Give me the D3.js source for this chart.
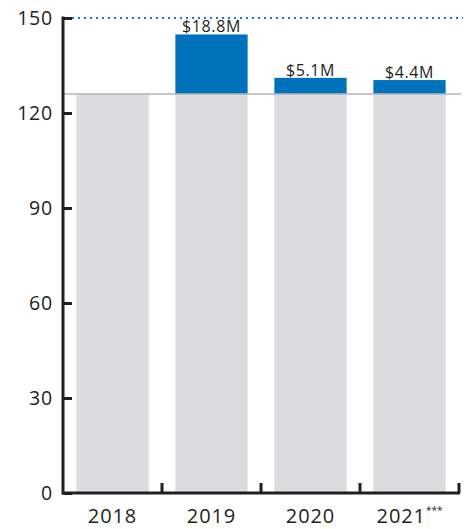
<!DOCTYPE html>
<html>
<head>
<meta charset="utf-8">
<script src="https://cdn.jsdelivr.net/npm/d3@7"></script>
<style>
  body { margin: 0; background: #fff; }
  svg text { font-family: "Open Sans", sans-serif; fill: #231f20; }
</style>
</head>
<body>
<script>
(function(){

    // chart data
    var years = ["2018", "2019", "2020", "2021"];
    var baseValues = [126, 126, 126, 126];
    var increases = [0, 18.8, 5.1, 4.4];
    var increaseLabels = ["", "$18.8M", "$5.1M", "$4.4M"];
    var yTicks = [0, 30, 60, 90, 120, 150];
    var refValue = 150;

    var width = 468,
        height = 529;

    var svg = d3.select("body")
        .append("svg")
        .attr("width", width)
        .attr("height", height);

    var x = d3.scaleBand()
        .domain(years)
        .range([63, 459])
        .paddingInner(0.27)
        .paddingOuter(0.135);

    var y = d3.scaleLinear()
        .domain([0, 150])
        .range([493, 18]);

    var rows = years.map(function(d, i){
        return { year: d, base: baseValues[i], inc: increases[i], label: increaseLabels[i] };
    });

    // gray base bars
    svg.selectAll(".base")
        .data(rows)
        .enter()
        .append("rect")
        .attr("class", "base")
        .attr("x", function(d){ return x(d.year); })
        .attr("width", x.bandwidth())
        .attr("y", function(d){ return y(d.base); })
        .attr("height", function(d){ return y(0) - y(d.base); })
        .style("fill", "#dcdcde");

    // blue increments
    svg.selectAll(".inc")
        .data(rows.filter(function(d){ return d.inc > 0; }))
        .enter()
        .append("rect")
        .attr("class", "inc")
        .attr("x", function(d){ return x(d.year); })
        .attr("width", x.bandwidth())
        .attr("y", function(d){ return y(d.base + d.inc); })
        .attr("height", function(d){ return y(d.base) - y(d.base + d.inc); })
        .style("fill", "#0072bc");

    svg.selectAll(".incLabel")
        .data(rows.filter(function(d){ return d.inc > 0; }))
        .enter()
        .append("text")
        .attr("class", "incLabel")
        .attr("x", function(d){ return x(d.year) + x.bandwidth() / 2; })
        .attr("y", function(d){ return y(d.base + d.inc) - 2; })
        .attr("text-anchor", "middle")
        .style("font-size", "16px")
        .style("letter-spacing", "0.6px")
        .text(function(d){ return d.label; });

    // gray baseline across at base level
    svg.append("line")
        .attr("x1", 63)
        .attr("x2", 461)
        .attr("y1", y(baseValues[0]))
        .attr("y2", y(baseValues[0]))
        .style("stroke", "#b5b5b8")
        .style("stroke-width", 1.5);

    // dotted reference line
    svg.append("line")
        .attr("x1", 72)
        .attr("x2", 463)
        .attr("y1", y(refValue))
        .attr("y2", y(refValue))
        .style("stroke", "#1a7ac4")
        .style("stroke-width", 2)
        .style("stroke-dasharray", "2,4");

    // y axis, ticks pointing inward
    var yAxis = d3.axisLeft(y)
        .tickValues(yTicks)
        .tickSize(-9)
        .tickPadding(10);

    var gy = svg.append("g")
        .attr("transform", "translate(63,0)")
        .call(yAxis);

    gy.select(".domain").remove();
    gy.selectAll(".tick line")
        .style("stroke", "#231f20")
        .style("stroke-width", 3);
    gy.selectAll(".tick text")
        .style("font-size", "19.5px")
        .style("letter-spacing", "0.8px")
        .style("fill", "#231f20")
        .attr("font-family", null);

    svg.append("line")
        .attr("x1", 63)
        .attr("x2", 63)
        .attr("y1", y(150) - 1.5)
        .attr("y2", y(0) + 1.5)
        .style("stroke", "#231f20")
        .style("stroke-width", 3);

    // x axis line and band boundary ticks
    svg.append("line")
        .attr("x1", 63)
        .attr("x2", 460)
        .attr("y1", y(0))
        .attr("y2", y(0))
        .style("stroke", "#231f20")
        .style("stroke-width", 3);

    var bounds = years.map(function(d){
        return x(d) + x.bandwidth() + (x.step() - x.bandwidth()) / 2;
    });

    svg.selectAll(".xtick")
        .data(bounds)
        .enter()
        .append("line")
        .attr("class", "xtick")
        .attr("x1", function(d){ return d; })
        .attr("x2", function(d){ return d; })
        .attr("y1", y(0))
        .attr("y2", y(0) - 10)
        .style("stroke", "#231f20")
        .style("stroke-width", 3);

    var yearText = svg.selectAll(".year")
        .data(years)
        .enter()
        .append("text")
        .attr("class", "year")
        .attr("x", function(d){ return x(d) + x.bandwidth() / 2; })
        .attr("y", 523)
        .attr("text-anchor", "middle")
        .style("font-size", "20px")
        .style("letter-spacing", "0.9px");

    yearText.append("tspan").text(function(d){ return d; });
    yearText.filter(function(d){ return d === "2021"; })
        .append("tspan")
        .attr("dy", -9)
        .style("font-size", "10px")
        .style("letter-spacing", "0px")
        .text("***");

})();
</script>
</body>
</html>
